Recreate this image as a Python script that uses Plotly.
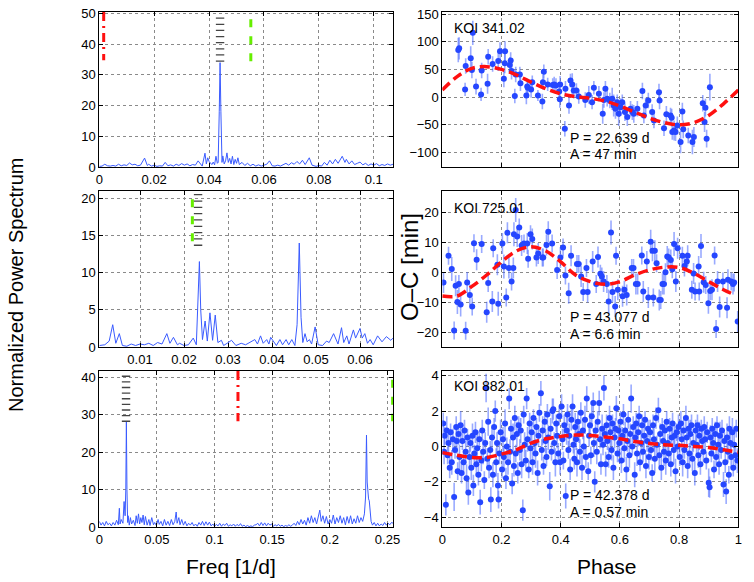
import plotly.graph_objects as go

W, H = 754, 582
FONT = "Liberation Sans, Arial, Helvetica, sans-serif"

# ---------------- periodograms (left column) ----------------
freq_a = [0.000,0.001,0.002,0.003,0.004,0.005,0.006,0.007,0.008,0.009,
          0.010,0.011,0.012,0.013,0.014,0.015,0.0165,0.0175,0.018,0.019,
          0.020,0.021,0.022,0.023,0.024,0.025,0.026,0.027,0.028,0.029,
          0.030,0.031,0.032,0.033,0.034,0.035,0.036,0.037,0.0375,0.0385,
          0.039,0.0395,0.040,0.041,0.0415,0.042,0.0425,0.043,0.0433,0.0437,
          0.044,0.0443,0.0447,0.045,0.0455,0.046,0.0465,0.047,0.0475,0.048,
          0.0485,0.049,0.0495,0.050,0.0505,0.051,0.052,0.053,0.054,0.055,
          0.056,0.057,0.058,0.059,0.060,0.061,0.062,0.063,0.064,0.065,
          0.066,0.067,0.068,0.069,0.070,0.071,0.072,0.073,0.074,0.075,
          0.0765,0.0775,0.078,0.079,0.080,0.081,0.082,0.083,0.084,0.085,
          0.086,0.087,0.0885,0.0895,0.090,0.091,0.092,0.093,0.094,0.095,
          0.096,0.097,0.098,0.099,0.100,0.101,0.102,0.103,0.104,0.105,
          0.106,0.107]
power_a = [0.2,0.3,0.9,0.4,0.3,0.5,0.3,0.9,0.4,0.7,
           0.5,1.3,0.7,0.9,0.4,0.6,2.9,0.5,0.9,0.3,
           0.6,0.2,0.4,0.3,1.5,0.4,0.7,0.3,0.9,0.5,
           1.1,0.6,1.0,0.4,0.8,0.6,2.0,0.8,0.3,4.5,
           1.0,3.0,1.8,0.8,1.6,0.7,3.5,1.2,1.5,18,
           34,18,1.5,3.6,1.0,2.0,4.6,1.5,2.8,1.0,
           3.5,0.8,2.5,1.2,3.0,0.8,1.5,0.5,1.2,0.4,
           0.9,0.3,0.7,0.3,0.5,0.9,2.0,0.4,0.3,0.6,
           0.3,0.8,1.2,0.6,1.4,0.9,1.8,1.0,2.2,0.8,
           3.0,0.6,0.4,0.2,0.5,0.3,1.5,0.6,2.2,1.0,
           2.5,1.2,3.5,1.5,2.5,1.0,2.0,0.8,1.2,1.6,
           0.7,1.2,0.5,1.0,0.6,1.1,0.4,0.8,0.5,1.0,
           0.6,0.9]

freq_b = [0.0008,0.002,0.003,0.0038,0.0045,0.0053,0.006,0.007,0.008,0.009,
          0.010,0.011,0.012,0.013,0.014,0.015,0.0161,0.0168,0.0176,0.0185,
          0.019,0.020,0.021,0.0221,0.0228,0.0231,0.0235,0.0238,0.0242,0.0248,
          0.0253,0.0259,0.0265,0.0271,0.0277,0.0285,0.029,0.0298,0.0308,0.0318,
          0.033,0.034,0.035,0.0361,0.0367,0.0374,0.038,0.0388,0.0393,0.0397,
          0.041,0.0418,0.0424,0.0432,0.0438,0.0445,0.0452,0.0457,0.0462,0.0466,
          0.047,0.0475,0.048,0.0485,0.049,0.0498,0.0505,0.0515,0.0524,0.053,
          0.054,0.055,0.0558,0.0563,0.057,0.0575,0.0585,0.059,0.060,0.0605,
          0.0611,0.0617,0.0623,0.063,0.064,0.065,0.066,0.067,0.0675]
power_b = [0.2,0.3,0.8,3.0,0.5,1.8,0.2,0.1,0.4,0.2,
           0.4,0.3,0.5,0.2,0.6,0.4,1.8,0.5,1.3,0.3,
           0.5,0.2,0.3,1.2,0.3,5.0,11.5,5.0,1.0,3.5,
           0.8,4.6,0.9,4.3,0.6,0.9,0.2,0.5,0.9,0.2,
           0.5,0.3,0.6,1.0,0.4,1.5,0.5,1.0,0.4,1.3,
           0.2,1.0,0.3,1.0,0.3,1.0,0.2,3.0,14.0,4.0,
           0.6,1.8,0.7,1.0,0.4,2.7,0.3,0.2,0.8,0.6,
           1.8,0.4,2.6,0.6,1.5,0.4,2.3,1.2,2.5,1.2,
           1.8,0.5,1.0,0.3,1.5,0.7,1.4,0.9,1.2]

freq_c = [0.000,0.0015,0.003,0.0045,0.006,0.0075,0.009,0.0105,0.012,0.0135,
          0.015,0.0165,0.0174,0.018,0.019,0.0205,0.0215,0.0224,0.0230,0.0235,
          0.0240,0.0246,0.025,0.026,0.027,0.028,0.0295,0.031,0.032,0.033,
          0.034,0.035,0.036,0.037,0.038,0.039,0.040,0.0415,0.043,0.044,
          0.0455,0.047,0.048,0.0495,0.051,0.052,0.0535,0.055,0.0565,0.058,
          0.0595,0.061,0.0625,0.064,0.0655,0.0667,0.0675,0.069,0.070,0.0715,
          0.073,0.0745,0.076,0.0775,0.079,0.0805,0.082,0.0835,0.085,0.0865,
          0.088,0.0895,0.091,0.0925,0.094,0.0955,0.097,0.0985,0.100,0.1015,
          0.103,0.1045,0.106,0.1075,0.109,0.1105,0.112,0.1135,0.115,0.1165,
          0.118,0.1195,0.121,0.1225,0.124,0.1255,0.127,0.1285,0.130,0.1315,
          0.133,0.1345,0.136,0.1375,0.139,0.1405,0.142,0.1435,0.145,0.1465,
          0.148,0.1495,0.151,0.1525,0.154,0.1555,0.157,0.1585,0.160,0.1615,
          0.163,0.1645,0.166,0.1675,0.169,0.1705,0.172,0.1735,0.175,0.1765,
          0.178,0.1795,0.181,0.1825,0.184,0.1855,0.187,0.1885,0.1913,0.1925,
          0.194,0.1955,0.197,0.1985,0.200,0.2015,0.203,0.2045,0.206,0.2075,
          0.209,0.2105,0.212,0.2135,0.215,0.2165,0.218,0.2195,0.221,0.2225,
          0.224,0.2255,0.227,0.2285,0.2300,0.2310,0.2318,0.2324,0.2330,0.2336,
          0.2342,0.2350,0.2358,0.237,0.2385,0.240,0.2415,0.243,0.2445,0.246,
          0.2475,0.249,0.2505,0.252,0.2535,0.255]
power_c = [1.5,0.5,1.2,0.3,1.5,0.6,1.0,0.3,1.2,0.5,
           1.8,0.6,5.0,0.8,2.0,1.0,6.8,3.0,10,28,
           10,1.2,3.0,0.5,2.5,0.8,1.8,0.4,3.0,1.0,
           3.5,0.8,2.5,1.2,3.2,0.6,2.8,0.5,2.0,0.4,
           2.5,0.6,1.2,0.4,2.0,0.7,1.5,0.3,2.0,0.5,
           1.5,0.4,2.0,0.6,1.5,4.0,1.0,2.5,0.6,2.0,
           0.5,1.5,0.3,1.0,0.5,1.2,0.3,0.8,0.2,1.2,
           0.5,1.5,0.4,1.4,0.5,1.3,0.3,0.8,0.2,0.7,
           0.3,1.0,0.2,0.8,0.4,1.0,0.2,0.6,0.3,0.8,
           0.2,0.7,0.3,0.9,0.2,0.5,0.1,0.4,0.1,0.3,
           0.1,0.5,0.6,1.0,0.3,1.2,0.4,1.1,0.3,1.0,
           0.5,0.8,0.2,0.6,0.3,0.7,0.2,0.5,0.1,0.4,
           0.2,0.6,0.2,0.5,1.0,0.4,1.5,0.6,2.0,0.8,
           1.8,0.5,2.5,1.0,3.0,1.2,2.5,0.8,4.5,1.5,
           3.0,1.0,2.8,0.8,2.0,1.0,3.2,0.8,2.5,1.2,
           3.0,1.0,2.5,0.6,2.8,1.0,3.0,0.8,2.2,1.0,
           3.0,1.2,2.5,1.5,3.5,8,24.5,12,9,7.5,
           7,3,1.5,0.5,1.2,0.3,1.0,0.3,0.8,0.4,
           1.2,0.5,1.0,0.6,1.2,1.0]

# markers of known periods (frequency, vertical extent)
black_f = [0.044, 0.0232, 0.0232]
black_y_a = [34.5, 36.5, 38.5, 40.5, 42.5, 44.5, 46.5, 48.5]
black_y_b = [13.7, 14.55, 15.4, 16.25, 17.1, 17.95, 18.8, 19.65, 20.5]
black_y_c = [28.2, 29.7, 31.2, 32.7, 34.2, 35.7, 37.2, 38.7, 40.2]
red_f = [0.0016, None, 0.1203]
red_span = [(50.5, 34.8), None, (41.6, 28.2)]
green_f = [0.0552, 0.0219, 0.2545]
green_span = [(48.1, 34.2), (19.9, 14.2), (39.3, 28.2)]

# ---------------- O-C data (right column) ----------------
phase_a = [0.054,0.057,0.077,0.079,0.096,0.100,0.103,0.114,0.131,0.133,
           0.153,0.155,0.170,0.189,0.195,0.208,0.211,0.212,0.228,0.231,
           0.234,0.245,0.248,0.262,0.264,0.284,0.287,0.289,0.300,0.304,
           0.323,0.338,0.340,0.343,0.356,0.373,0.378,0.384,0.395,0.397,
           0.398,0.414,0.416,0.428,0.433,0.439,0.444,0.453,0.461,0.483,
           0.495,0.506,0.512,0.529,0.542,0.546,0.551,0.557,0.566,0.574,
           0.579,0.585,0.591,0.596,0.602,0.608,0.617,0.625,0.636,0.642,
           0.647,0.659,0.676,0.681,0.687,0.696,0.709,0.715,0.732,0.734,
           0.749,0.757,0.771,0.775,0.777,0.783,0.788,0.794,0.805,0.811,
           0.814,0.831,0.845,0.850,0.880,0.886,0.889,0.893,0.904]
oc_a = [85,88,14,56,70,49,116,19,5,48,
        24,73,60,65,83,33,61,83,58,66,
        47,2,41,41,25,3,19,17,14,27,
        3,-8,27,46,23,22,23,21,10,-4,
        23,-57,15,-15,30,23,12,12,1,-5,
        4,-9,17,6,-30,-5,15,-3,-6,-3,
        -15,-21,-9,-30,-18,-9,-27,-36,-21,-27,
        -30,-21,11,-33,-15,-6,-27,-42,9,-6,
        -56,-31,-33,-37,-63,-60,-63,-51,-81,-26,
        -58,-69,-81,-72,-11,-45,-19,-75,18]
err_a = [22,20,12,14,22,15,22,14,12,14,
         18,14,14,18,16,15,18,18,14,15,
         15,13,14,14,14,16,14,12,15,12,
         10,14,13,13,12,12,14,13,14,15,
         15,14,14,15,12,20,14,13,13,14,
         16,13,12,14,18,14,14,14,14,20,
         20,18,14,22,16,14,16,16,14,14,
         16,14,15,14,14,14,14,14,15,16,
         14,15,14,16,14,18,16,16,20,16,
         16,14,22,18,15,18,16,16,24]
model_phase_a = [0,0.05,0.1,0.15,0.2,0.25,0.3,0.35,0.4,0.45,0.5,
                 0.55,0.6,0.65,0.7,0.75,0.8,0.85,0.9,0.95,1.0]
model_a = [13,37,52,55,50,40,27,15,6,1,-2,
           -7,-16,-27,-38,-46,-50,-46,-33,-12,13]

phase_b = [0.004,0.021,0.032,0.040,0.045,0.051,0.056,0.062,0.079,0.084,
           0.093,0.101,0.107,0.116,0.133,0.150,0.155,0.169,0.172,0.186,
           0.189,0.203,0.208,0.216,0.220,0.225,0.234,0.240,0.242,0.248,
           0.253,0.260,0.268,0.276,0.287,0.290,0.298,0.304,0.318,0.324,
           0.338,0.341,0.352,0.358,0.371,0.388,0.399,0.408,0.416,0.427,
           0.435,0.455,0.461,0.469,0.476,0.487,0.491,0.508,0.520,0.526,
           0.534,0.539,0.545,0.556,0.562,0.570,0.575,0.584,0.587,0.593,
           0.609,0.615,0.623,0.640,0.646,0.654,0.660,0.674,0.679,0.691,
           0.696,0.704,0.710,0.713,0.718,0.724,0.733,0.738,0.744,0.749,
           0.754,0.760,0.765,0.772,0.777,0.783,0.789,0.795,0.811,0.818,
           0.826,0.829,0.843,0.849,0.854,0.866,0.868,0.874,0.883,0.890,
           0.899,0.905,0.911,0.920,0.925,0.930,0.937,0.948,0.962,0.965,
           0.976,0.982,0.986,0.998]
oc_b = [-3.3,5.6,1.2,-19.3,-4.4,-9.8,-3.8,-10.6,-19.4,-3.3,
        -7.5,-11.3,9.8,4.3,9.5,-13.2,-3.5,-9.6,8.1,2.6,
        -10.4,9.7,2.0,-8.3,13.3,1.5,-3.0,1.5,12.8,20.9,
        12.0,15.0,9.0,9.7,9.7,4.6,12.8,11.2,5.0,6.4,
        5.0,5.0,9.2,13.6,9.7,0.9,5.0,8.4,-1.0,-6.9,
        5.6,2.9,2.9,-1.3,-6.5,1.5,-6.5,3.7,-3.8,5.2,
        -0.4,-1.3,-3.0,-3.8,-9.6,13.4,-6.5,-11.3,5.6,-5.7,
        -7.9,-5.7,-7.5,1.5,1.5,-3.8,-3.8,5.7,-6.3,3.7,
        -8.3,10.3,7.3,-8.3,7.3,3.1,-9.1,-9.1,-3.8,-3.8,
        0.1,5.4,5.0,4.2,1.1,9.5,-3.0,8.1,5.6,2.2,
        3.7,5.6,-5.7,-0.3,-6.3,2.0,-6.3,8.9,-3.2,-4.1,
        -10.2,-6.1,-5.7,5.7,-18.8,-3.0,-11.5,-3.0,-11.7,-2.4,
        -3.0,-3.8,-3.3,-16.3]
err_b = [3.5,3.0,4.0,3.0,3.5,4.0,3.0,4.0,3.0,3.5,
         3.5,3.0,3.0,3.5,3.0,3.5,3.0,3.5,3.0,3.5,
         4.0,3.5,4.0,3.0,3.5,3.5,3.0,3.5,4.0,4.0,
         3.5,3.0,3.5,3.0,3.5,3.0,3.0,3.5,3.0,3.5,
         3.0,3.0,3.5,3.5,3.0,3.0,3.5,3.0,3.0,3.5,
         3.5,3.0,3.0,3.5,3.0,3.0,3.5,3.5,3.0,3.5,
         3.0,3.0,3.5,3.0,4.0,4.0,3.5,3.5,3.0,3.5,
         3.5,3.0,3.5,3.0,3.0,3.5,3.5,3.0,3.5,3.5,
         3.5,4.0,3.5,3.0,3.5,3.0,3.5,3.0,3.5,3.5,
         3.0,3.5,3.0,3.5,3.0,4.0,3.5,3.5,3.0,3.5,
         3.0,3.5,3.0,3.5,3.0,3.5,3.0,4.0,3.5,3.0,
         3.5,3.0,3.5,3.0,3.0,3.5,3.5,3.0,3.5,3.5,
         3.0,3.5,3.0,3.5]
model_phase_b = [0,0.05,0.1,0.15,0.2,0.25,0.3,0.35,0.4,0.45,0.5,
                 0.55,0.6,0.65,0.7,0.75,0.8,0.85,0.9,0.95,0.985]
model_b = [-7.8,-7.8,-4.6,-0.8,3.6,7.2,8.6,7.2,3.6,-0.8,-3.0,
           -3.9,-3.0,-0.8,0.9,1.8,1.7,-0.2,-3.0,-5.7,-7.3]

phase_c = [0.003,0.006,0.008,0.012,0.015,0.018,0.021,0.025,0.028,0.032,0.036,0.040,0.043,0.047,0.049,
           0.052,0.055,0.058,0.062,0.065,0.068,0.072,0.075,0.079,0.082,0.085,0.088,0.092,0.095,0.098,
           0.102,0.105,0.108,0.112,0.115,0.118,0.122,0.125,0.128,0.132,0.135,0.138,0.142,0.145,0.148,
           0.152,0.155,0.158,0.162,0.164,0.168,0.171,0.175,0.179,0.182,0.185,0.188,0.190,0.193,0.197,
           0.202,0.205,0.208,0.212,0.215,0.218,0.222,0.226,0.229,0.232,0.236,0.239,0.242,0.245,0.248,
           0.252,0.255,0.258,0.262,0.265,0.268,0.272,0.275,0.278,0.282,0.285,0.288,0.292,0.295,0.298,
           0.302,0.305,0.308,0.312,0.315,0.318,0.322,0.325,0.328,0.333,0.336,0.339,0.342,0.346,0.349,
           0.352,0.355,0.358,0.363,0.366,0.369,0.372,0.375,0.378,0.382,0.385,0.388,0.392,0.395,0.398,
           0.403,0.406,0.409,0.412,0.417,0.420,0.423,0.426,0.429,0.432,0.436,0.440,0.443,0.446,0.449,
           0.452,0.455,0.458,0.462,0.465,0.468,0.472,0.475,0.478,0.482,0.485,0.488,0.493,0.496,0.499,
           0.502,0.505,0.510,0.512,0.515,0.518,0.522,0.525,0.530,0.533,0.536,0.540,0.543,0.546,0.549,
           0.552,0.555,0.558,0.562,0.565,0.568,0.572,0.575,0.578,0.582,0.585,0.588,0.592,0.595,0.598,
           0.602,0.605,0.608,0.612,0.615,0.618,0.622,0.625,0.628,0.632,0.635,0.638,0.642,0.645,0.650,
           0.652,0.655,0.658,0.662,0.665,0.668,0.672,0.675,0.678,0.682,0.685,0.688,0.692,0.695,0.698,
           0.702,0.705,0.709,0.712,0.715,0.718,0.722,0.725,0.730,0.733,0.736,0.740,0.743,0.746,0.749,
           0.752,0.755,0.758,0.762,0.765,0.768,0.772,0.775,0.778,0.782,0.785,0.788,0.792,0.795,0.798,
           0.802,0.806,0.809,0.812,0.815,0.818,0.823,0.826,0.829,0.832,0.835,0.838,0.842,0.845,0.848,
           0.853,0.856,0.859,0.862,0.865,0.868,0.872,0.875,0.878,0.882,0.885,0.888,0.892,0.895,0.900,
           0.903,0.906,0.909,0.912,0.915,0.918,0.922,0.925,0.928,0.932,0.935,0.938,0.942,0.945,0.950,
           0.953,0.956,0.959,0.962,0.965,0.968,0.970,0.973,0.976,0.980,0.983,0.986,0.990,0.993,0.997]
oc_c = [1.3,-0.3,0.6,-3.3,0.9,-0.5,0.2,-1.2,0.8,-0.9,0.4,-2.85,-0.2,1.1,0.3,
        -1.4,0.7,-0.6,1.2,-1.5,0.3,-0.9,0.9,-0.3,-1.8,0.5,-2.6,-0.6,0.2,-1.2,
        0.6,-2.2,-0.4,0.8,-1.0,-0.1,-1.6,0.4,-3.15,-0.8,0.9,-0.3,-1.9,0.2,3.3,
        -0.7,1.4,-1.2,-0.2,-3.0,0.5,-1.6,1.1,2.0,-0.9,0.2,-2.2,-3.0,-0.4,0.8,
        -1.3,0.4,-0.6,1.3,-1.8,0.0,-0.9,2.7,-0.3,1.0,-2.1,0.5,-1.1,1.6,-0.4,
        0.7,-1.5,1.2,-0.2,0.9,-1.0,-3.6,1.8,0.1,-0.8,2.7,0.4,-1.3,1.3,-0.1,
        0.8,-0.9,1.6,0.2,-0.4,1.1,-1.5,0.6,1.9,3.0,-0.2,0.9,-1.1,1.4,0.3,
        -0.6,1.8,0.5,-2.25,1.0,-0.3,2.0,2.1,0.2,-0.9,1.3,0.6,-0.4,1.7,-0.9,
        2.25,0.4,-0.8,1.2,-2.8,0.9,1.8,-0.2,0.6,-1.3,1.5,2.25,0.1,-0.7,1.1,
        0.4,-0.9,1.4,0.7,-0.3,1.9,-1.2,0.9,0.0,1.5,-0.6,2.7,-1.4,0.6,1.2,
        -0.5,1.7,2.45,0.2,-2.0,0.9,-0.3,1.4,2.45,0.4,-1.0,1.0,0.1,3.3,0.7,
        -1.0,1.2,0.3,-0.6,1.6,0.8,-0.2,1.3,-1.2,0.5,1.0,2.15,-0.4,0.9,0.2,
        1.4,-0.8,0.6,1.8,-0.1,0.9,-1.3,0.3,1.5,-0.5,0.7,2.7,0.0,1.1,-1.6,
        0.5,1.3,-0.4,0.8,1.7,-0.9,0.2,1.2,-0.3,0.6,1.5,-1.1,0.3,1.0,-0.6,
        0.8,-0.2,-1.5,1.2,0.4,-0.7,1.6,0.1,2.05,-0.5,0.7,-1.2,1.1,0.3,-0.3,
        0.9,-0.8,1.4,0.2,-0.4,1.0,-1.0,0.5,1.3,-0.2,0.6,-1.4,0.8,0.0,1.1,
        -0.6,1.3,0.4,-0.9,0.9,-0.2,1.6,0.5,-1.1,1.0,-0.4,0.7,1.2,-0.7,0.2,
        -1.5,0.9,0.1,1.2,-0.5,0.6,-1.0,1.0,0.3,-0.3,1.1,0.4,-0.8,0.8,-2.05,
        -2.3,0.5,-0.4,1.0,0.2,-1.3,0.7,-0.6,1.2,0.1,-1.0,0.6,-0.2,0.9,-2.15,
        0.3,-0.9,-2.55,0.5,-0.3,-1.6,1.0,0.2,-0.6,0.8,-1.2,0.1,-0.5,1.0,-0.8]
err_c = [0.6,0.7,0.5,0.6,0.8,0.5,0.7,0.6,0.5,0.7,0.6,0.8,0.5,0.6,0.7,
         0.5,0.6,0.7,0.8,0.6,0.5,0.7,0.6,0.6,0.8,0.5,0.7,0.6,0.5,0.7,
         0.7,0.6,0.5,0.6,0.7,0.8,0.6,0.5,0.7,0.6,0.6,0.7,0.5,0.6,0.8,
         0.6,0.8,0.6,0.5,0.7,0.6,0.7,0.5,0.6,0.8,0.6,0.7,0.5,0.6,0.7,
         0.5,0.7,0.6,0.8,0.6,0.5,0.7,0.6,0.7,0.5,0.6,0.8,0.6,0.7,0.5,
         0.7,0.6,0.5,0.6,0.7,0.8,0.6,0.5,0.7,0.6,0.6,0.7,0.5,0.6,0.8,
         0.6,0.7,0.5,0.6,0.8,0.5,0.7,0.6,0.5,0.7,0.6,0.8,0.5,0.6,0.7,
         0.5,0.6,0.7,0.8,0.6,0.5,0.7,0.6,0.6,0.8,0.5,0.7,0.6,0.5,0.7,
         0.7,0.6,0.5,0.6,0.7,0.8,0.6,0.5,0.7,0.6,0.6,0.7,0.5,0.6,0.8,
         0.6,0.8,0.6,0.5,0.7,0.6,0.7,0.5,0.6,0.8,0.6,0.7,0.5,0.6,0.7,
         0.5,0.7,0.6,0.8,0.6,0.5,0.7,0.6,0.7,0.5,0.6,0.8,0.6,0.7,0.5,
         0.7,0.6,0.5,0.6,0.7,0.8,0.6,0.5,0.7,0.6,0.6,0.7,0.5,0.6,0.8,
         0.6,0.7,0.5,0.6,0.8,0.5,0.7,0.6,0.5,0.7,0.6,0.8,0.5,0.6,0.7,
         0.5,0.6,0.7,0.8,0.6,0.5,0.7,0.6,0.6,0.8,0.5,0.7,0.6,0.5,0.7,
         0.7,0.6,0.5,0.6,0.7,0.8,0.6,0.5,0.7,0.6,0.6,0.7,0.5,0.6,0.8,
         0.6,0.8,0.6,0.5,0.7,0.6,0.7,0.5,0.6,0.8,0.6,0.7,0.5,0.6,0.7,
         0.5,0.7,0.6,0.8,0.6,0.5,0.7,0.6,0.7,0.5,0.6,0.8,0.6,0.7,0.5,
         0.7,0.6,0.5,0.6,0.7,0.8,0.6,0.5,0.7,0.6,0.6,0.7,0.5,0.6,0.8,
         0.6,0.7,0.5,0.6,0.8,0.5,0.7,0.6,0.5,0.7,0.6,0.8,0.5,0.6,0.7,
         0.5,0.6,0.7,0.8,0.6,0.5,0.7,0.6,0.6,0.8,0.5,0.7,0.6,0.5,0.7]
model_phase_c = [0,0.05,0.1,0.15,0.2,0.25,0.3,0.35,0.4,0.45,0.5,
                 0.55,0.6,0.65,0.7,0.75,0.8,0.85,0.9,0.95,1.0]
model_c = [-0.35,-0.5,-0.62,-0.62,-0.43,-0.19,0.19,0.43,0.56,0.64,0.62,
           0.53,0.43,0.28,0.17,0.09,0.06,0.0,-0.06,-0.19,-0.32]

koi_names = ["KOI 341.02", "KOI 725.01", "KOI 882.01"]
periods = ["P = 22.639 d", "P = 43.077 d", "P = 42.378 d"]
amps = ["A = 47 min", "A = 6.6 min", "A = 0.57 min"]

# ---------------- styling ----------------
LINE_BLUE = "#3a5bff"
PT_BLUE = "#2546ff"
ERR_BLUE = "rgba(70,100,255,0.55)"
RED = "#ff1010"
GREEN = "#66ee00"


def px(x):
    return x / W


def py(y):
    return 1 - y / H


left_dom = [px(99.3), px(393)]
right_dom = [px(442.3), px(738.3)]
row_dom = [[py(167), py(12)], [py(347), py(191)], [py(527), py(371)]]

fig = go.Figure()


def axis(domain, rng, dtick, anchor, labels=True, tick0=0):
    return dict(domain=domain, range=rng, dtick=dtick, tick0=tick0, anchor=anchor,
                automargin=False,
                showline=True, linecolor="black", linewidth=1, mirror="ticks",
                ticks="inside", ticklen=4, tickcolor="black", tickwidth=1,
                showgrid=True, gridcolor="#8a8a8a", griddash="dot", gridwidth=1,
                zeroline=False, showticklabels=labels,
                tickfont=dict(family=FONT, size=13, color="black"))


layout_axes = {}
left_specs = [([0, 0.107], 0.02, [0, 50.5], 10),
              ([0.00075, 0.0675], 0.01, [0, 21], 5),
              ([0, 0.2548], 0.05, [0, 41.6], 10)]
right_specs = [([-126, 153.6], 50, False), ([-24.8, 27.2], 10, False), ([-4.55, 4.26], 2, True)]

freqs = [freq_a, freq_b, freq_c]
powers = [power_a, power_b, power_c]
black_ys = [black_y_a, black_y_b, black_y_c]
phases = [phase_a, phase_b, phase_c]
ocs = [oc_a, oc_b, oc_c]
errs = [err_a, err_b, err_c]
mph = [model_phase_a, model_phase_b, model_phase_c]
mvals = [model_a, model_b, model_c]

for i in range(3):
    li = 2 * i + 1
    ri = 2 * i + 2
    lx, ly = ("x" if li == 1 else f"x{li}"), ("y" if li == 1 else f"y{li}")
    rx, ry = f"x{ri}", f"y{ri}"
    xr, xd, yr, yd = left_specs[i]
    layout_axes["xaxis" if li == 1 else f"xaxis{li}"] = axis(left_dom, xr, xd, ly)
    layout_axes["yaxis" if li == 1 else f"yaxis{li}"] = axis(row_dom[i], yr, yd, lx)
    ryr, ryd, lab = right_specs[i]
    layout_axes[f"xaxis{ri}"] = axis(right_dom, [0, 1], 0.2, ry, labels=lab)
    layout_axes[f"yaxis{ri}"] = axis(row_dom[i], ryr, ryd, rx)

    # periodogram
    fig.add_trace(go.Scatter(x=freqs[i], y=powers[i], mode="lines",
                             line=dict(color=LINE_BLUE, width=1), xaxis=lx, yaxis=ly))
    # red dash-dot marker
    if red_f[i] is not None:
        fig.add_trace(go.Scatter(x=[red_f[i], red_f[i]], y=list(red_span[i]), mode="lines",
                                 line=dict(color=RED, width=3, dash="9px,5px,2px,5px"),
                                 xaxis=lx, yaxis=ly))
    # green dashed marker
    fig.add_trace(go.Scatter(x=[green_f[i], green_f[i]], y=list(green_span[i]), mode="lines",
                             line=dict(color=GREEN, width=3, dash="8px,9px"),
                             xaxis=lx, yaxis=ly))
    # black tick marker
    fig.add_trace(go.Scatter(x=[black_f[i]] * len(black_ys[i]), y=black_ys[i], mode="markers",
                             marker=dict(symbol="line-ew", size=6, color="#444",
                                         line=dict(color="#444", width=1.3)),
                             xaxis=lx, yaxis=ly))

    # O-C points
    fig.add_trace(go.Scatter(x=phases[i], y=ocs[i], mode="markers",
                             marker=dict(size=6, color=PT_BLUE),
                             error_y=dict(type="data", array=errs[i], visible=True,
                                          color=ERR_BLUE, thickness=1.6, width=0),
                             xaxis=rx, yaxis=ry))
    fig.add_trace(go.Scatter(x=mph[i], y=mvals[i], mode="lines",
                             line=dict(color=RED, width=3.5, dash="10px,5px", shape="spline"),
                             xaxis=rx, yaxis=ry))

annots = []
koi_y = [28, 208, 386]
p_y = [137.5, 317, 495]
a_y = [154, 333.5, 512]
for i in range(3):
    annots.append(dict(x=px(453), y=py(koi_y[i]), xref="paper", yref="paper", text=koi_names[i],
                       showarrow=False, xanchor="left", yanchor="middle", borderpad=0,
                       font=dict(family=FONT, size=14, color="black")))
    annots.append(dict(x=px(569), y=py(p_y[i]), xref="paper", yref="paper", text=periods[i],
                       showarrow=False, xanchor="left", yanchor="middle", borderpad=0,
                       font=dict(family=FONT, size=14, color="black")))
    annots.append(dict(x=px(569), y=py(a_y[i]), xref="paper", yref="paper", text=amps[i],
                       showarrow=False, xanchor="left", yanchor="middle", borderpad=0,
                       font=dict(family=FONT, size=14, color="black")))

annots += [
    dict(x=px(16), y=py(285), xref="paper", yref="paper", text="Normalized Power Spectrum",
         textangle=-90, showarrow=False, xanchor="center", yanchor="middle",
         font=dict(family=FONT, size=20, color="black")),
    dict(x=px(410), y=py(267), xref="paper", yref="paper", text="O\u2013C [min]",
         textangle=-90, showarrow=False, xanchor="center", yanchor="middle",
         font=dict(family=FONT, size=24, color="black")),
    dict(x=px(231), y=py(566), xref="paper", yref="paper", text="Freq [1/d]",
         showarrow=False, xanchor="center", yanchor="middle",
         font=dict(family=FONT, size=21, color="black")),
    dict(x=px(607), y=py(566), xref="paper", yref="paper", text="Phase",
         showarrow=False, xanchor="center", yanchor="middle",
         font=dict(family=FONT, size=21, color="black")),
]

fig.update_layout(width=W, height=H, margin=dict(l=0, r=0, t=0, b=0, autoexpand=False),
                  paper_bgcolor="white", plot_bgcolor="white", showlegend=False,
                  font=dict(family=FONT, color="black"), annotations=annots, **layout_axes)

fig.write_html("out.html", config={"displayModeBar": False},
               post_script="document.body.style.margin='0px';document.body.style.overflow='hidden';")
